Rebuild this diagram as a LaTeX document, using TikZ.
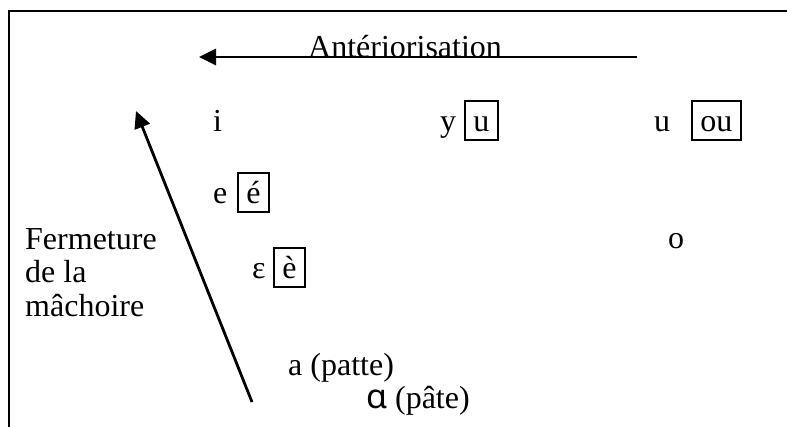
\documentclass[tikz,border=0pt]{standalone}
\usepackage{fontspec}
\setmainfont{Liberation Serif}
\newfontfamily\alphafont{Noto Sans}
\usetikzlibrary{arrows.meta}
\begin{document}
\begin{tikzpicture}[x=1pt,y=-1pt,
  lbl/.style={anchor=base west,inner sep=0pt,font=\fontsize{32}{36}\selectfont},
  boxed/.style={anchor=base west,draw,line width=1.5pt,inner xsep=8.5pt,inner ysep=0pt,
    text height=31pt,text depth=8pt,font=\fontsize{32}{36}\selectfont},
  frameline/.style={line width=2.5pt},
  bigarrow/.style={line width=2.8pt,-{Triangle[length=17pt,width=16pt]}}]
\useasboundingbox (0,0) rectangle (787,427);
% frame
\draw[frameline] (787,11) -- (9,11) -- (9,428);
% horizontal arrow
\coordinate (hs) at (637,57);
\coordinate (he) at (199,57);
\node[lbl] (ant) at (308,58) {Antériorisation};
\draw[bigarrow] (hs) -- (he);
% diagonal arrow
\coordinate (ds) at (252,402);
\coordinate (de) at (136,111);
\draw[bigarrow] (ds) -- (de);
% vowels
\node[lbl] (i) at (213,132) {i};
\node[lbl] (y) at (440,132) {y};
\node[boxed] (ub) at (464,132) {u};
\node[lbl] (u) at (654,132) {u};
\node[boxed] (oub) at (691,132) {ou};
\node[lbl] (e) at (213,204) {e};
\node[boxed] (eb) at (237,204) {é};
\node[lbl] (o) at (668,249) {o};
\node[lbl] (eps) at (252,279) {ε};
\node[boxed] (eg) at (273,279) {è};
\node[lbl] (f1) at (25,250) {Fermeture};
\node[lbl] (f2) at (25,283) {de la};
\node[lbl] (f3) at (25,317) {mâchoire};
\node[lbl] (a1) at (288,376) {a (patte)};
\node[lbl] (a2) at (366,408) {{\alphafont\fontsize{34}{36}\selectfont ɑ} (pâte)};
\end{tikzpicture}
\end{document}
